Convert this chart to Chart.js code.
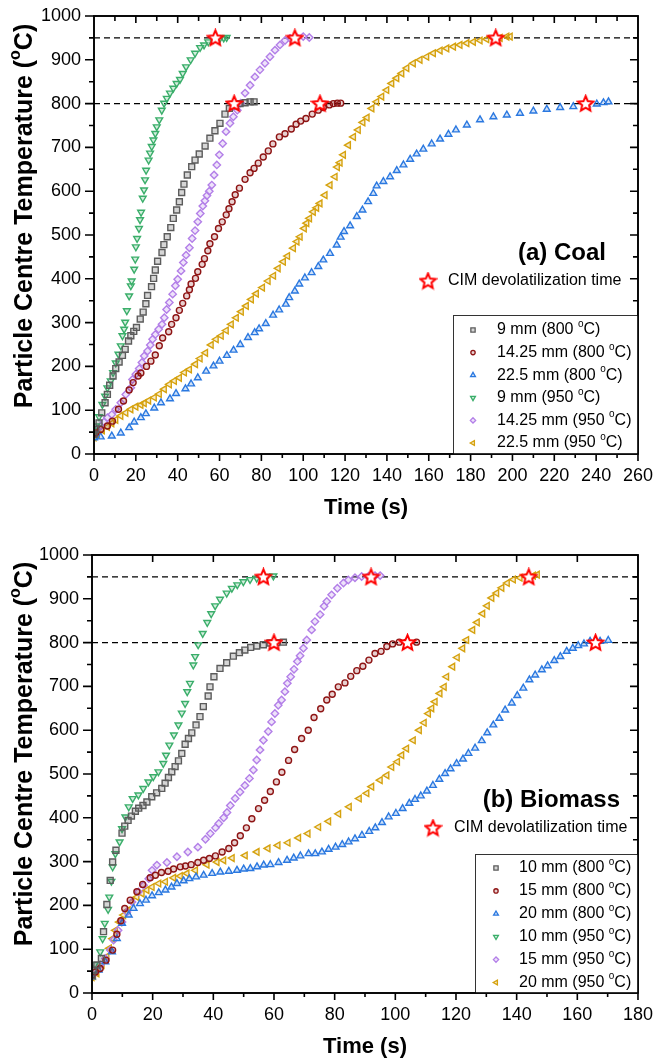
<!DOCTYPE html>
<html>
<head>
<meta charset="utf-8">
<title>Particle Centre Temperature - Coal and Biomass</title>
<script src="https://cdn.jsdelivr.net/npm/chart.js@4"></script>
<style>
  body { margin: 0; background: #fff; }
  canvas { position: absolute; left: 0; }
</style>
</head>
<body>
<canvas id="coalChart" width="653" height="528" style="top:0"></canvas>
<canvas id="bioChart" width="653" height="533" style="top:528px"></canvas>

<script>
// ---------- (a) Coal : [time s, temperature °C] ----------
const coalLabels = ['9 mm (800 °C)', '14.25 mm (800 °C)', '22.5 mm (800 °C)',
                    '9 mm (950 °C)', '14.25 mm (950 °C)', '22.5 mm (950 °C)'];

const coal9_800 = [[0,45],[0.8,56],[2.4,71],[3.7,94],[5.3,117],[6.4,136],[7.5,157],[9.1,178],[10.4,195],[12,210],[13.6,225],[14.9,239],[16.5,258],[17.6,270],[19,280],[20.3,289],[22.1,308],[23.5,324],[24.8,343],[25.6,362],[27.5,382],[28.5,401],[29.3,420],[30.4,440],[32.5,460],[33.4,478],[35,496],[36.7,517],[37.9,538],[39.5,557],[40.8,576],[41.9,597],[43,616],[44.6,637],[46.7,656],[48.3,671],[50.3,685],[53.1,703],[55.4,721],[57.8,738],[60.2,755],[62.6,776],[64.7,789],[67.4,795],[69.8,800],[72.2,802],[74.6,804],[76.5,804]];

const coal14_800 = [[0,45],[0.8,48],[3.2,56],[6.4,64],[8.8,75],[11.7,102],[14.1,121],[16.8,146],[18.7,163],[21.1,178],[22.4,185],[25.1,200],[27.2,212],[29.3,226],[31.2,247],[32.8,265],[35.7,279],[37.1,296],[39.2,311],[40.8,328],[42.4,344],[44.3,361],[45.6,375],[46.4,388],[48.5,401],[49.6,416],[51.7,433],[52.8,446],[54.4,464],[55.4,480],[57.6,496],[59.5,515],[61.3,530],[63.2,546],[64.5,560],[66,576],[67.5,592],[69.5,607],[72.2,627],[74.6,642],[76.5,652],[78.5,664],[80.9,678],[83.3,692],[85.5,708],[88.6,724],[91.3,731],[94.3,742],[96.6,753],[98.8,760],[101.3,766],[104.3,776],[107.2,785],[109.6,791],[112.5,797],[114.4,800],[116.3,801],[117.9,801]];

const coal22_800 = [[0,37],[3.2,39],[8.5,41],[12.8,48],[16.8,60],[19.2,73],[22.4,83],[24.8,92],[28.8,105],[32,117],[36.3,126],[39.2,138],[43.7,149],[46.4,160],[49.6,174],[53.6,189],[57.1,201],[60,212],[63.5,225],[66.7,237],[69.9,250],[73.6,266],[76.8,277],[78.9,286],[82.1,298],[85.6,317],[88.5,329],[91.7,342],[93.3,357],[96,372],[98.1,388],[100.8,402],[104,414],[107.2,428],[109.6,443],[112.8,458],[116,477],[117.9,495],[119.5,508],[122.4,521],[125.6,542],[128.3,557],[131,576],[133.5,595],[135.1,612],[138.3,622],[141.5,633],[144.7,647],[147.9,660],[151.1,673],[154.2,685],[157.4,696],[161.4,708],[165.4,719],[169.4,730],[173,740],[178.2,751],[184.5,763],[190.9,770],[197.3,774],[203.6,778],[210,783],[216.4,787],[222.8,791],[229.1,793],[235.5,797],[240.3,799],[243.5,802],[245.9,804]];

const coal9_950 = [[0,48],[1.1,64],[2.4,85],[4,113],[5.3,132],[6.4,151],[8,167],[9.1,186],[10.4,208],[11.7,228],[12.8,247],[13.6,270],[14.4,285],[14.9,301],[15.7,327],[16.8,361],[17.6,384],[18,395],[19.2,422],[19.7,445],[20,473],[20.6,492],[21.5,515],[22,535],[22.5,552],[23.3,584],[23.9,603],[24.4,626],[24.9,648],[26.1,671],[26.8,687],[27.6,702],[28.4,717],[29.3,732],[30,747],[31.2,763],[32.4,785],[33.5,801],[34.8,812],[36.3,824],[37.9,835],[39.5,846],[41.1,855],[42.4,869],[44,884],[46.2,900],[48.3,915],[50.7,928],[52.6,934],[54.6,941],[57,947],[60.2,949],[62,950],[63.4,951]];

const coal14_950 = [[0,48],[1.6,56],[3.2,64],[4.8,73],[6.4,83],[8.5,90],[10.4,102],[12.8,117],[15.2,136],[17.6,151],[18.4,170],[20,182],[21.6,195],[22.9,209],[24,224],[25.6,235],[26.9,249],[28,262],[29.3,273],[30.9,285],[32.5,296],[33.6,311],[34.7,330],[36,346],[37.6,365],[38.9,384],[40,399],[41.6,418],[42.7,437],[44,454],[45.6,471],[46.9,492],[48.3,510],[49.6,530],[50.8,549],[52,566],[53,578],[54,590],[55.1,600],[56.3,614],[57.4,637],[58.7,660],[59.9,683],[61.5,709],[63.1,736],[65,755],[66.6,770],[68.5,785],[70.1,801],[72.2,824],[74.6,842],[76.9,861],[79.3,877],[81.7,892],[84.1,907],[86.5,922],[88.9,934],[91.3,944],[93.7,949],[96.9,951],[100,953],[102.9,951]];

const coal22_950 = [[0,38],[1.6,45],[4,54],[6.4,62],[8.5,70],[10.4,78],[12.8,87],[15.2,94],[17.6,102],[20,108],[22.4,112],[24,116],[26.1,122],[28.8,129],[31.2,137],[33.6,148],[36,159],[38.4,167],[40.8,174],[43.2,186],[45.6,193],[48.5,205],[50.7,218],[53.3,231],[56,249],[58.4,262],[60.8,270],[63.2,282],[65.6,296],[68,311],[70.4,325],[72.8,338],[75.2,353],[77.6,366],[80.5,380],[83.2,395],[85.8,407],[88,424],[90.5,439],[92.5,452],[95.3,470],[97,485],[98.5,496],[100.5,515],[101.7,527],[103,538],[104.8,553],[106.4,562],[108,572],[110.4,591],[112.8,614],[115.2,633],[116.3,655],[117.6,665],[119.2,683],[121.6,705],[124,724],[126.3,740],[128.5,757],[130.5,768],[132.8,789],[135.1,804],[137.5,816],[139.9,831],[142.3,846],[144.7,858],[147.1,869],[149.5,881],[152.6,892],[155.8,900],[159,907],[162.2,915],[165.4,921],[168.6,926],[171.8,930],[174.9,934],[178.2,938],[181.3,941],[184.5,944],[187.7,947],[190.9,949],[194.1,950],[197.3,953],[198.9,953]];

const coalStars = [[58,950],[96,950],[192,950],[67,800],[108,800],[235,800]];

// ---------- (b) Biomass ----------
const bioLabels = ['10 mm (800 °C)', '15 mm (800 °C)', '20 mm (800 °C)',
                   '10 mm (950 °C)', '15 mm (950 °C)', '20 mm (950 °C)'];

const bio10_800 = [[0,40],[0.5,52],[1.6,64],[3.1,79],[3.8,140],[4.9,202],[6,257],[6.8,299],[7.9,326],[9.9,365],[10.8,381],[11.9,394],[13,404],[14.3,415],[15.4,422],[16.8,428],[18.1,436],[19.7,448],[21.3,457],[23,467],[24.1,479],[25.2,492],[26.3,505],[27.4,517],[28.5,530],[29.6,547],[30.7,568],[31.8,581],[32.9,594],[34.3,612],[35.6,631],[36.7,654],[38.3,678],[38.9,699],[40.2,722],[42.2,741],[44.4,754],[46.6,769],[48.6,777],[50.4,783],[52.3,789],[54.3,792],[56.5,795],[58.7,799],[60.9,800],[63.1,801]];

const bio15_800 = [[0,40],[1.1,48],[2.7,56],[4.6,75],[6.8,98],[8.2,134],[9.5,165],[10.8,193],[12.6,212],[14.8,231],[16.7,248],[19.2,263],[20.9,269],[22.9,275],[25.1,278],[26.9,283],[29.1,288],[30.8,290],[32.7,293],[34.9,298],[36.8,303],[38.7,307],[40.7,313],[42.9,322],[45.1,330],[47,343],[48.9,359],[50.9,377],[52.7,398],[54.9,421],[56.9,440],[58.8,460],[60.8,482],[62.6,504],[64.8,531],[66.8,556],[69.1,581],[71.3,600],[73.2,629],[75.4,649],[77.4,669],[79.2,682],[81.2,699],[83.4,708],[85.3,723],[87.3,736],[89.3,746],[91.3,760],[93.3,775],[95.3,780],[97.2,791],[99.1,797],[101.3,801],[103.7,801],[107,801]];

const bio20_800 = [[0,37],[2.2,52],[4.4,71],[6.6,94],[8.2,124],[9.9,159],[12.1,178],[13.7,193],[15.8,204],[17.8,212],[19.8,222],[22,229],[24.2,235],[26.2,242],[28,250],[30.2,256],[32.1,261],[34.3,265],[36.8,269],[39.6,273],[42.3,276],[45.1,278],[47.8,280],[50,283],[52.2,284],[54.4,288],[56.6,292],[58.8,293],[61.5,298],[64.3,303],[66.5,308],[68.7,313],[71.4,318],[73.6,318],[75.8,322],[78,328],[80.3,333],[82.5,339],[84.6,345],[86.7,352],[89,360],[91.4,369],[93.4,377],[95.6,389],[97.8,402],[100.2,410],[102.4,421],[104.6,433],[106.5,442],[108.4,450],[110.4,461],[112.4,474],[114.5,488],[116.4,501],[118.2,512],[120.2,524],[122.3,534],[124.1,547],[126.3,559],[128.5,576],[130.3,594],[132.3,612],[134.3,627],[136.2,646],[138.4,662],[140.2,679],[142.2,696],[144.2,715],[146.1,726],[148.3,738],[150.2,747],[152.4,759],[154.4,768],[156.5,780],[158.5,787],[160.3,793],[162.2,797],[164.2,803],[167.5,803],[170.2,805]];

const bio10_950 = [[0,40],[0.9,65],[2.7,94],[3.5,124],[4.2,159],[5.3,191],[5.7,219],[6.4,255],[6.8,288],[7.7,318],[9.1,345],[9.9,375],[11,402],[12.1,425],[13.4,444],[15.3,452],[16.9,467],[18.6,482],[20.2,494],[21.9,505],[23.5,524],[24.4,543],[25.5,566],[27,589],[28.5,612],[29.6,639],[30.7,661],[31.4,688],[32.3,707],[33.4,749],[34,768],[35,795],[36.5,821],[38,846],[39.3,866],[40.6,884],[42.2,899],[44.4,913],[46.1,924],[47.9,932],[49.9,939],[52.1,944],[54.3,947],[57.6,951],[59.8,952]];

const bio15_950 = [[0,40],[1.1,48],[2.7,64],[4.4,79],[6,98],[7.1,121],[8.6,143],[9.9,162],[11.5,185],[13.2,208],[15.3,231],[17,246],[18.7,261],[19.8,280],[21.4,292],[24.7,298],[28,311],[31.6,322],[34.9,333],[37.4,351],[39,364],[40.7,377],[41.8,387],[43.4,400],[44.5,412],[45.6,428],[47.2,444],[48.8,459],[50.4,474],[51.9,490],[53.2,509],[54.3,532],[55.4,555],[56.5,577],[58.1,597],[59.2,619],[60.3,638],[61.4,657],[62.5,669],[63.6,688],[64.4,707],[65.5,722],[66.6,739],[67.7,757],[68.6,770],[69.7,787],[70.8,806],[72.4,829],[73.5,848],[75.2,864],[76.5,883],[77.4,894],[79,909],[80.9,924],[82.9,936],[84.5,943],[86.7,948],[88.9,951],[91.1,951],[93.3,953],[95,953]];

const bio20_950 = [[0,36],[0.5,39],[1.6,45],[3.3,64],[4.9,83],[5.7,102],[6.8,124],[7.7,143],[9,162],[10.4,178],[11.9,189],[13.2,208],[14.8,219],[16.5,227],[18.1,235],[19.8,242],[22,250],[24.2,254],[26.9,263],[29.1,267],[31.3,273],[34.1,280],[37.9,293],[41.2,299],[43.4,303],[46.2,308],[50.5,314],[54.4,322],[58,330],[61.3,337],[64.6,343],[68.1,354],[71.2,364],[74.7,379],[78,392],[81.3,409],[84.8,425],[88.1,444],[90.6,456],[92.2,471],[95,486],[97.2,497],[98.8,516],[100.7,528],[102.1,543],[103.7,558],[105.9,577],[107.9,600],[109.5,617],[110.9,638],[112,650],[113.1,665],[114.7,684],[116.1,699],[116.9,722],[118.9,745],[120.4,766],[122.2,787],[123.5,806],[125.5,829],[127,846],[128.8,866],[130.3,884],[131.8,902],[133.4,913],[135.1,925],[136.9,936],[138.9,944],[141.1,948],[143.3,952],[145.5,953],[146.8,955]];

const bioStars = [[56.5,950],[92,950],[144,950],[60,800],[104,800],[166,800]];

const thresholds = [800, 950];
const starLabel = 'CIM devolatilization time';
const yTitle = 'Particle Centre Temperature (°C)';
const xTitle = 'Time (s)';

// marker look, same order as the legend
const markerStyles = [
  { color: '#5c5c5c', fill: 'rgba(92,92,92,0.25)',   shape: 'rect',     rot: 0,   r: 4.2 },
  { color: '#8e1414', fill: 'rgba(142,20,20,0.2)',   shape: 'circle',   rot: 0,   r: 3.0 },
  { color: '#2a78e0', fill: 'rgba(42,120,224,0.22)', shape: 'triangle', rot: 0,   r: 3.9 },
  { color: '#3aae6a', fill: 'rgba(58,174,106,0.22)', shape: 'triangle', rot: 180, r: 3.9 },
  { color: '#b37fe8', fill: 'rgba(179,127,232,0.22)',shape: 'rectRot',  rot: 0,   r: 3.7 },
  { color: '#d6a20e', fill: 'rgba(214,162,14,0.22)', shape: 'triangle', rot: -90, r: 3.9 }
];

const FONT = "'Liberation Sans', Arial, sans-serif";
Chart.defaults.font.family = FONT;
Chart.defaults.color = '#000';

// red star used for the CIM points
function makeStar(size) {
  const c = document.createElement('canvas');
  c.width = c.height = size;
  const g = c.getContext('2d');
  const cx = size / 2, cy = size / 2 + 0.5, ro = size / 2 - 1.5, ri = ro * 0.46;
  g.beginPath();
  for (let i = 0; i < 10; i++) {
    const r = i % 2 ? ri : ro;
    const a = -Math.PI / 2 + i * Math.PI / 5;
    g.lineTo(cx + r * Math.cos(a), cy + r * Math.sin(a));
  }
  g.closePath();
  g.fillStyle = '#fff';
  g.fill();
  g.lineWidth = 2;
  g.strokeStyle = '#ff0000';
  g.stroke();
  return c;
}
const starImg = makeStar(19);

// text with a raised small "o" in place of °
function drawSupText(ctx, str, x, y, size, weight, align) {
  const parts = str.split('°');
  const base = `${weight} ${size}px ${FONT}`;
  const small = `${weight} ${Math.round(size * 0.62)}px ${FONT}`;
  ctx.font = base;
  const w0 = ctx.measureText(parts[0]).width;
  let wS = 0, w1 = 0;
  if (parts.length > 1) {
    ctx.font = small; wS = ctx.measureText('o').width;
    ctx.font = base; w1 = ctx.measureText(parts[1]).width;
  }
  const total = w0 + wS + w1;
  const sx = align === 'center' ? x - total / 2 : align === 'right' ? x - total : x;
  ctx.textAlign = 'left';
  ctx.textBaseline = 'middle';
  ctx.font = base;
  ctx.fillText(parts[0], sx, y);
  if (parts.length > 1) {
    ctx.font = small;
    ctx.fillText('o', sx + w0, y - size * 0.36);
    ctx.font = base;
    ctx.fillText(parts[1], sx + w0 + wS, y);
  }
}

// frame, minor ticks, titles and the in-plot legend
const decor = {
  id: 'decor',
  afterDatasetsDraw(chart, args, o) {
    const { ctx, chartArea: a, scales: { x, y } } = chart;
    ctx.save();
    ctx.strokeStyle = '#000';
    ctx.lineWidth = 1.6;
    ctx.strokeRect(a.left, a.top, a.right - a.left, a.bottom - a.top);
    ctx.beginPath();
    for (let v = 0; v <= o.xMax; v += 10) {
      const px = x.getPixelForValue(v);
      ctx.moveTo(px, a.bottom);
      ctx.lineTo(px, a.bottom + (v % 20 === 0 ? 7 : 4));
    }
    for (let v = o.topStep; v < o.xMax; v += o.topStep) {
      const px = x.getPixelForValue(v);
      ctx.moveTo(px, a.top);
      ctx.lineTo(px, a.top + (v % 20 === 0 ? 7 : 5));
    }
    for (let v = 0; v <= 1000; v += 50) {
      const py = y.getPixelForValue(v);
      const major = v % 100 === 0;
      ctx.moveTo(a.left, py);
      ctx.lineTo(a.left - (major ? 9 : 5), py);
      if (v > 0 && v < 1000) {
        ctx.moveTo(a.right, py);
        ctx.lineTo(a.right - (major ? 8 : 5), py);
      }
    }
    ctx.stroke();
    ctx.restore();
  },
  afterDraw(chart, args, o) {
    const { ctx, chartArea: a } = chart;
    ctx.save();
    ctx.fillStyle = '#000';

    // axis titles
    drawSupText(ctx, xTitle, (a.left + a.right) / 2, o.xTitleY, 22, 'bold', 'center');
    ctx.save();
    ctx.translate(25, o.yTitleY);
    ctx.rotate(-Math.PI / 2);
    drawSupText(ctx, yTitle, 0, 0, 25, 'bold', 'center');
    ctx.restore();

    // panel tag
    ctx.font = `bold 24px ${FONT}`;
    ctx.textAlign = 'right';
    ctx.textBaseline = 'middle';
    ctx.fillText(o.tag, o.tagX, o.tagY);

    // CIM star entry
    ctx.drawImage(starImg, o.starX - starImg.width / 2, o.starY - starImg.height / 2);
    drawSupText(ctx, starLabel, o.starTx, o.starY, 16, 'normal', 'left');

    // legend box
    ctx.fillStyle = '#fff';
    ctx.fillRect(o.boxL, o.boxT, a.right - o.boxL, a.bottom - o.boxT);
    ctx.strokeStyle = '#333';
    ctx.lineWidth = 1;
    ctx.strokeRect(o.boxL + 0.5, o.boxT + 0.5, a.right - o.boxL, a.bottom - o.boxT);
    o.labels.forEach((lab, i) => {
      const s = markerStyles[i];
      const yy = o.rowY + i * o.rowDy;
      ctx.fillStyle = s.fill;
      ctx.strokeStyle = s.color;
      ctx.lineWidth = 1.3;
      Chart.helpers.drawPoint(ctx, { pointStyle: s.shape, rotation: s.rot, radius: s.r * 0.72, borderWidth: 1.3 }, o.markX, yy);
      ctx.fillStyle = '#000';
      drawSupText(ctx, lab, o.textX, yy, 16, 'normal', 'left');
    });
    // frame edge over the box
    ctx.strokeStyle = '#000';
    ctx.lineWidth = 1.6;
    ctx.strokeRect(a.left, a.top, a.right - a.left, a.bottom - a.top);
    ctx.restore();
  }
};

function buildDatasets(series, labels, stars, xMax) {
  const ds = series.map((pts, i) => ({
    label: labels[i],
    data: pts.map(p => ({ x: p[0], y: p[1] })),
    showLine: false,
    pointStyle: markerStyles[i].shape,
    pointRotation: markerStyles[i].rot,
    pointRadius: markerStyles[i].r,
    pointBorderWidth: 1.4,
    borderColor: markerStyles[i].color,
    backgroundColor: markerStyles[i].fill,
    order: 1
  }));
  thresholds.forEach(t => ds.push({
    label: 'ref ' + t,
    data: [{ x: 0, y: t }, { x: xMax, y: t }],
    showLine: true,
    borderColor: '#000',
    borderWidth: 1.1,
    borderDash: [6, 4],
    pointRadius: 0,
    order: 2
  }));
  ds.push({
    label: starLabel,
    data: stars.map(p => ({ x: p[0], y: p[1] })),
    showLine: false,
    pointStyle: starImg,
    pointRadius: 9,
    order: 0
  });
  return ds;
}

function makeChart(id, series, labels, stars, L) {
  const pad = { top: L.area.top, right: 0, left: 0, bottom: 0 };
  const chart = new Chart(document.getElementById(id), {
    type: 'scatter',
    data: { datasets: buildDatasets(series, labels, stars, L.xMax) },
    options: {
      responsive: false,
      animation: false,
      events: [],
      layout: { padding: pad },
      plugins: {
        legend: { display: false },
        tooltip: { enabled: false },
        decor: Object.assign({ labels: labels }, L)
      },
      scales: {
        x: {
          type: 'linear', min: 0, max: L.xMax,
          // tick marks are drawn by the decor plugin; tickLength only spaces the labels
          grid: { display: false, drawTicks: true, tickLength: 11 },
          border: { display: false },
          ticks: { stepSize: 20, padding: 0, autoSkip: false, maxRotation: 0, font: { size: 18 } },
          afterFit: s => { s.height = L.xHeight; }
        },
        y: {
          type: 'linear', min: 0, max: 1000,
          grid: { display: false, drawTicks: true, tickLength: 13 },
          border: { display: false },
          ticks: { stepSize: 100, padding: 0, autoSkip: false, font: { size: 18 },
                   callback: v => String(v) },
          afterFit: s => { s.width = L.yWidth; }
        }
      }
    },
    plugins: [decor]
  });

  // nudge the plot area onto the wanted box
  for (let k = 0; k < 4; k++) {
    const ca = chart.chartArea;
    const p = chart.options.layout.padding;
    p.top = Math.max(0, p.top + (L.area.top - ca.top));
    p.right = Math.max(0, p.right + (ca.right - L.area.right));
    L.xHeight += ca.bottom - L.area.bottom;
    L.yWidth += L.area.left - ca.left;
    chart.update();
  }
  return chart;
}

makeChart('coalChart',
  [coal9_800, coal14_800, coal22_800, coal9_950, coal14_950, coal22_950],
  coalLabels, coalStars,
  { area: { left: 94, top: 16, right: 638, bottom: 454 },
    yWidth: 94, xHeight: 74, xMax: 260, topStep: 10,
    xTitleY: 508, yTitleY: 216, tag: '(a) Coal', tagX: 606, tagY: 253,
    starX: 428, starY: 281, starTx: 448,
    boxL: 453, boxT: 315, markX: 473, textX: 497, rowY: 330, rowDy: 22.6 });

makeChart('bioChart',
  [bio10_800, bio15_800, bio20_800, bio10_950, bio15_950, bio20_950],
  bioLabels, bioStars,
  { area: { left: 92, top: 27, right: 638, bottom: 465 },
    yWidth: 92, xHeight: 68, xMax: 180, topStep: 20,
    xTitleY: 519, yTitleY: 226, tag: '(b) Biomass', tagX: 620, tagY: 272,
    starX: 433, starY: 300, starTx: 454,
    boxL: 475, boxT: 326, markX: 496, textX: 519, rowY: 340, rowDy: 22.9 });
</script>
</body>
</html>
